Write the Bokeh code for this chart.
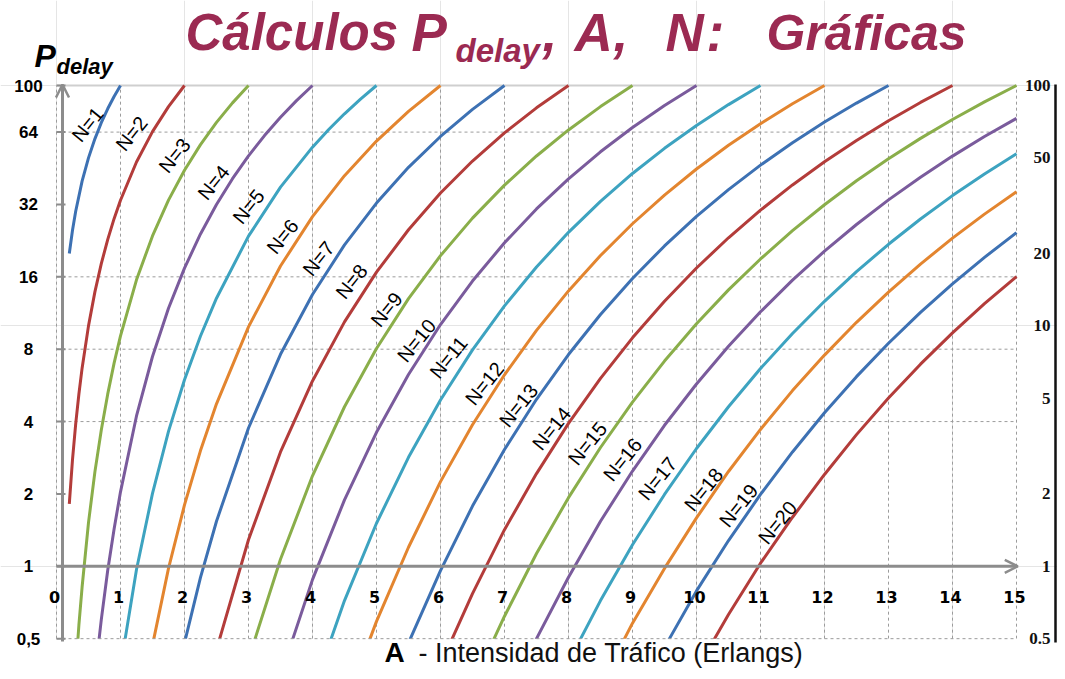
import math
from bokeh.plotting import figure
from bokeh.models import Range1d, Arrow, OpenHead
from bokeh.core.properties import value
from bokeh.embed import file_html
from bokeh.resources import INLINE

# ---------------- data (A = traffic in Erlangs, P = delay probability in %) ----------------
N1_A = [0.2, 0.25, 0.3, 0.4, 0.5, 0.6, 0.7, 0.8, 0.9, 1.0]
N1_P = [20, 25, 30, 40, 50, 60, 70, 80, 90, 100]
N2_A = [0.2, 0.25, 0.3, 0.35, 0.4, 0.5, 0.6, 0.7, 0.8, 0.9, 1.0, 1.25, 1.5, 1.75, 2.0]
N2_P = [1.82, 2.78, 3.91, 5.21, 6.67, 10.0, 13.85, 18.15, 22.86, 27.93, 33.33, 48.08, 64.29, 81.67, 100]
N3_A = [0.3, 0.35, 0.4, 0.5, 0.6, 0.7, 0.8, 0.9, 1.0, 1.25, 1.5, 1.75, 2.0, 2.25, 2.5, 2.75, 3.0]
N3_P = [0.37, 0.57, 0.82, 1.52, 2.47, 3.69, 5.20, 7.00, 9.09, 15.55, 23.68, 33.37, 44.44, 56.78, 70.22, 84.67, 100]
N4_A = [0.6, 0.7, 0.8, 0.9, 1.0, 1.25, 1.5, 1.75, 2.0, 2.25, 2.5, 2.75, 3.0, 3.25, 3.5, 3.75, 4.0]
N4_P = [0.35, 0.60, 0.96, 1.43, 2.04, 4.22, 7.46, 11.84, 17.39, 24.12, 31.99, 40.95, 50.94, 61.91, 73.79, 86.50, 100]
N5_A = [1.0, 1.25, 1.5, 1.75, 2.0, 2.25, 2.5, 3.0, 3.5, 4.0, 4.25, 4.5, 4.75, 5.0]
N5_P = [0.38, 0.97, 2.01, 3.64, 5.97, 9.08, 13.04, 23.62, 37.78, 55.41, 65.45, 76.25, 87.78, 100]
N6_A = [1.5, 1.75, 2.0, 2.25, 2.5, 3.0, 3.5, 4.0, 4.5, 5.0, 5.5, 6.0]
N6_P = [0.47, 0.98, 1.80, 3.03, 4.74, 9.91, 17.75, 28.48, 42.17, 58.75, 78.09, 100]
N7_A = [2.0, 2.25, 2.5, 3.0, 3.5, 4.0, 4.5, 5.0, 5.5, 6.0, 6.5, 7.0]
N7_P = [0.48, 0.90, 1.54, 3.76, 7.62, 13.51, 21.72, 32.42, 45.65, 61.38, 79.54, 100]
N8_A = [2.5, 3.0, 3.5, 4.0, 4.5, 5.0, 5.5, 6.0, 6.5, 7.0, 7.5, 8.0]
N8_P = [0.45, 1.29, 2.99, 5.90, 10.39, 16.73, 25.12, 35.70, 48.51, 63.53, 80.73, 100]
N9_A = [3.0, 3.5, 4.0, 4.5, 5.0, 5.5, 6.0, 6.5, 7.0, 7.5, 8.0, 8.5, 9.0]
N9_P = [0.41, 1.07, 2.38, 4.61, 8.05, 12.98, 19.60, 28.07, 38.50, 50.92, 65.33, 81.71, 100]
N10_A = [3.5, 4.0, 4.5, 5.0, 5.5, 6.0, 6.5, 7.0, 7.5, 8.0, 8.5, 9.0, 9.5, 10.0]
N10_P = [0.35, 0.88, 1.89, 3.61, 6.28, 10.13, 15.37, 22.17, 30.66, 40.92, 52.99, 66.87, 82.56, 100]
N11_A = [4.0, 4.5, 5.0, 5.5, 6.0, 6.5, 7.0, 7.5, 8.0, 8.5, 9.0, 9.5, 10.0, 10.5, 11.0]
N11_P = [0.30, 0.72, 1.51, 2.84, 4.92, 7.95, 12.11, 17.58, 24.50, 32.96, 43.05, 54.79, 68.21, 83.29, 100]
N12_A = [4.5, 5.0, 5.5, 6.0, 6.5, 7.0, 7.5, 8.0, 8.5, 9.0, 9.5, 10.0, 10.5, 11.0, 11.5, 12.0]
N12_P = [0.26, 0.59, 1.20, 2.25, 3.88, 6.26, 9.58, 13.98, 19.62, 26.60, 35.02, 44.94, 56.39, 69.39, 83.93, 100]
N13_A = [5.0, 5.5, 6.0, 6.5, 7.0, 7.5, 8.0, 8.5, 9.0, 9.5, 10.0, 10.5, 11.0, 11.5, 12.0, 12.5, 13.0]
N13_P = [0.21, 0.48, 0.96, 1.78, 3.06, 4.95, 7.60, 11.15, 15.75, 21.51, 28.53, 36.89, 46.64, 57.82, 70.44, 84.51, 100]
N14_A = [5.5, 6.0, 6.5, 7.0, 7.5, 8.0, 8.5, 9.0, 9.5, 10.0, 10.5, 11.0, 11.5, 12.0, 12.5, 13.0, 13.5, 14.0]
N14_P = [0.18, 0.39, 0.77, 1.42, 2.43, 3.93, 6.05, 8.92, 12.67, 17.41, 23.26, 30.29, 38.58, 48.17, 59.10, 71.38, 85.02, 100]
N15_A = [6.0, 6.5, 7.0, 7.5, 8.0, 8.5, 9.0, 9.5, 10.0, 10.5, 11.0, 11.5, 12.0, 12.5, 13.0, 13.5, 14.0, 14.5, 15.0]
N15_P = [0.15, 0.32, 0.62, 1.13, 1.93, 3.12, 4.82, 7.14, 10.20, 14.12, 18.98, 24.89, 31.92, 40.13, 49.57, 60.26, 72.23, 85.48, 100]
N16_A = [7.0, 7.5, 8.0, 8.5, 9.0, 9.5, 10.0, 10.5, 11.0, 11.5, 12.0, 12.5, 13.0, 13.5, 14.0, 14.5, 15.0]
N16_P = [0.26, 0.50, 0.90, 1.54, 2.49, 3.86, 5.73, 8.23, 11.45, 15.50, 20.46, 26.41, 33.43, 41.56, 50.85, 61.33, 73.01]
N17_A = [7.5, 8.0, 8.5, 9.0, 9.5, 10.0, 10.5, 11.0, 11.5, 12.0, 12.5, 13.0, 13.5, 14.0, 14.5, 15.0]
N17_P = [0.21, 0.40, 0.72, 1.23, 1.99, 3.09, 4.61, 6.65, 9.30, 12.66, 16.82, 21.85, 27.84, 34.83, 42.88, 52.03]
N18_A = [8.0, 8.5, 9.0, 9.5, 10.0, 10.5, 11.0, 11.5, 12.0, 12.5, 13.0, 13.5, 14.0, 14.5, 15.0]
N18_P = [0.17, 0.32, 0.58, 0.98, 1.59, 2.48, 3.71, 5.38, 7.56, 10.35, 13.83, 18.08, 23.17, 29.17, 36.13]
N19_A = [9.0, 9.5, 10.0, 10.5, 11.0, 11.5, 12.0, 12.5, 13.0, 13.5, 14.0, 14.5, 15.0]
N19_P = [0.26, 0.46, 0.79, 1.28, 1.99, 2.99, 4.35, 6.15, 8.47, 11.38, 14.96, 19.28, 24.42]
N20_A = [9.5, 10.0, 10.5, 11.0, 11.5, 12.0, 12.5, 13.0, 13.5, 14.0, 14.5, 15.0]
N20_P = [0.21, 0.37, 0.63, 1.03, 1.60, 2.41, 3.53, 5.01, 6.93, 9.36, 12.37, 16.04]

CURVES_A = [N1_A, N2_A, N3_A, N4_A, N5_A, N6_A, N7_A, N8_A, N9_A, N10_A,
            N11_A, N12_A, N13_A, N14_A, N15_A, N16_A, N17_A, N18_A, N19_A, N20_A]
CURVES_P = [N1_P, N2_P, N3_P, N4_P, N5_P, N6_P, N7_P, N8_P, N9_P, N10_P,
            N11_P, N12_P, N13_P, N14_P, N15_P, N16_P, N17_P, N18_P, N19_P, N20_P]
CURVE_LABELS = ["N=%d" % n for n in range(1, 21)]

X_TICKS = list(range(0, 16))
Y_TICKS = [100, 64, 32, 16, 8, 4, 2, 1, 0.5]
Y_TICK_LABELS = ["100", "64", "32", "16", "8", "4", "2", "1", "0,5"]
Y_GRID = [64, 16, 8, 4]
RIGHT_TICKS = [100, 50, 20, 10, 5, 2, 1, 0.5]
RIGHT_TICK_LABELS = ["100", "50", "20", "10", "5", "2", "1", "0.5"]

# ---------------- layout (reference pixel geometry) ----------------
W, H = 1057, 671
X_A0, PX_A = 56.0, 64.0
Y_P100, PX_DEC = 85.0, 240.4


def ax(x):
    return (x - X_A0) / PX_A


def py(y):
    return 100.0 * 10 ** ((Y_P100 - y) / PX_DEC)


COLORS = ["#3d71b3", "#b33c3a", "#8aae4a", "#7a5b9c", "#3da3c0", "#e3852f"]
GRID_COLOR = "#9c9c9c"
AXIS_COLOR = "#8c8c8c"
TITLE_COLOR = "#9b2a52"
SANS = value("Liberation Sans")

p = figure(width=W, height=H,
           x_range=Range1d(ax(0), ax(W)),
           y_range=Range1d(py(H), py(0)),
           y_axis_type="log", x_axis_location=None, y_axis_location=None,
           toolbar_location=None, output_backend="svg", min_border=0, title=None)
p.outline_line_color = None
p.background_fill_color = "white"
p.border_fill_color = "white"

# grid
p.segment(x0=X_TICKS, y0=[0.5] * len(X_TICKS), x1=X_TICKS, y1=[100] * len(X_TICKS),
          line_color=GRID_COLOR, line_width=1, line_dash="3 3")
p.segment(x0=[0] * len(Y_GRID), y0=Y_GRID, x1=[15] * len(Y_GRID), y1=Y_GRID,
          line_color=GRID_COLOR, line_width=1, line_dash="3 3")
p.segment(x0=[0], y0=[100], x1=[15], y1=[100], line_color="#cfcfcf", line_width=2)

# curves
for i, (a, pv) in enumerate(zip(CURVES_A, CURVES_P)):
    p.line(a, pv, line_color=COLORS[i % 6], line_width=3)

# mask below P = 0.5
p.quad(left=[ax(40)], right=[ax(1030)], bottom=[py(H)], top=[0.5],
       fill_color="white", line_color=None)
p.segment(x0=[0], y0=[0.5], x1=[15], y1=[0.5], line_color=GRID_COLOR, line_width=1, line_dash="3 3")

# axes arrows and ticks
p.add_layout(Arrow(end=OpenHead(size=13, line_color=AXIS_COLOR, line_width=2.5),
                   x_start=0, y_start=1, x_end=15.02, y_end=1,
                   line_color=AXIS_COLOR, line_width=3))
p.add_layout(Arrow(end=OpenHead(size=13, line_color=AXIS_COLOR, line_width=2.5),
                   x_start=ax(62), y_start=py(641), x_end=ax(62), y_end=py(84),
                   line_color=AXIS_COLOR, line_width=3))
p.segment(x0=[ax(56)] * len(Y_TICKS), y0=Y_TICKS, x1=[ax(65)] * len(Y_TICKS), y1=Y_TICKS,
          line_color=AXIS_COLOR, line_width=2)

# tick labels
p.text(x=[ax(28)] * len(Y_TICKS), y=Y_TICKS, text=Y_TICK_LABELS, text_font=SANS,
       text_font_size="17px", text_font_style="bold", text_align="center",
       text_baseline="middle", text_color="black")
p.text(x=X_TICKS, y=[py(596)] * len(X_TICKS), text=[str(t) for t in X_TICKS],
       text_font=value("DejaVu Sans"), text_font_size="16px", text_font_style="bold",
       text_align="center", text_baseline="middle", text_color="black", x_offset=-2)

# curve labels
LABEL_X_PX = [87, 131, 174, 213, 248, 282, 318, 351, 386, 416, 448, 484, 518, 551, 587, 622, 657, 703, 738, 777]
LABEL_Y_PX = [124, 133, 155, 182, 206, 236, 258, 281, 309, 340, 357, 383, 405, 428, 443, 459, 478, 489, 505, 522]
p.text(x=[ax(v) for v in LABEL_X_PX], y=[py(v) for v in LABEL_Y_PX], text=CURVE_LABELS,
       angle=math.radians(51), text_font=SANS, text_font_size="20px",
       text_align="center", text_baseline="middle", text_color="black")


def put(xpx, ypx, s, size, style, color, font=SANS, align="left"):
    # ypx: vertical middle of the text line (reference pixels)
    p.text(x=[ax(xpx)], y=[py(ypx)], text=[s], text_font=font, text_font_size=size,
           text_font_style=style, text_color=color, text_align=align, text_baseline="middle")


# title, placed piece by piece
put(185, 32, "Cálculos", "51px", "bold italic", TITLE_COLOR)
put(411, 32, "P", "53px", "bold italic", TITLE_COLOR)
put(455, 50, "delay", "33px", "bold italic", TITLE_COLOR)
put(542, 32, ",", "53px", "bold italic", TITLE_COLOR)
put(574, 32, "A", "53px", "bold italic", TITLE_COLOR)
put(613, 32, ",", "53px", "bold italic", TITLE_COLOR)
put(665, 32, "N", "53px", "bold italic", TITLE_COLOR)
put(706, 32, ":", "53px", "bold italic", TITLE_COLOR)
put(766, 32, "Gráficas", "50px", "bold italic", TITLE_COLOR)

# y label
put(34, 55, "P", "32px", "bold italic", "black")
put(56, 66, "delay", "22px", "bold italic", "black")

# x label
put(384, 652, "A", "28px", "bold", "black")
put(418, 652, "- Intensidad de Tráfico (Erlangs)", "27px", "normal", "#111111")

# scanned right-hand axis
p.segment(x0=[ax(1055)], y0=[py(84)], x1=[ax(1055)], y1=[py(642)], line_color="#111111", line_width=2.5)
p.text(x=[ax(1050)] * len(RIGHT_TICKS), y=RIGHT_TICKS, text=RIGHT_TICK_LABELS,
       text_font=value("Liberation Serif"), text_font_size="17px", text_font_style="bold",
       text_align="right", text_baseline="middle", text_color="#111111")

open("out.html", "w").write(file_html(p, INLINE))
